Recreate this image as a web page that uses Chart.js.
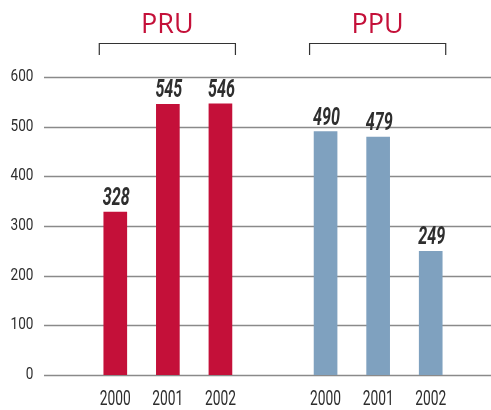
<!DOCTYPE html>
<html>
<head>
<meta charset="utf-8">
<script src="https://cdn.jsdelivr.net/npm/chart.js@4"></script>
<style>
    html, body { margin: 0; padding: 0; background: #ffffff; }
    #wrap { position: relative; width: 491px; height: 410px; }
</style>
</head>
<body>
<div id="wrap"><canvas id="chart" width="491" height="410"></canvas></div>
<script>
const years = ['2000', '2001', '2002'];
const groups = ['PRU', 'PPU'];
const pruValues = [328, 545, 546];
const ppuValues = [490, 479, 249];
const yTicks = [0, 100, 200, 300, 400, 500, 600];

const RED = '#c41039';
const BLUE = '#7fa1bf';
const TEXT = '#2e2e2e';

// one empty slot between the two groups
const labels = [...years, '', ...years];
const values = [...pruValues, null, ...ppuValues];
const colors = [...pruValues.map(() => RED), 'rgba(0,0,0,0)', ...ppuValues.map(() => BLUE)];

// no condensed font installed, so squeeze text horizontally
function condensedText(ctx, text, x, y, sx) {
    ctx.save();
    ctx.translate(x, y);
    ctx.scale(sx, 1);
    ctx.fillText(text, 0, 0);
    ctx.restore();
}

const gridPlugin = {
    id: 'gridPlugin',
    beforeDatasetsDraw(chart) {
        const { ctx } = chart;
        const y = chart.scales.y;
        const x = chart.scales.x;
        ctx.save();
        ctx.strokeStyle = '#8a8a8a';
        ctx.lineWidth = 1.5;
        ctx.fillStyle = TEXT;
        ctx.font = '17px Roboto';
        ctx.textAlign = 'right';
        ctx.textBaseline = 'middle';
        yTicks.forEach(t => {
            const py = Math.round(y.getPixelForValue(t)) + 0.5;
            ctx.beginPath();
            ctx.moveTo(44, py);
            ctx.lineTo(chart.width, py);
            ctx.stroke();
            condensedText(ctx, String(t), 33.5, py - 1, 0.8);
        });

        // category labels
        ctx.font = '20px Roboto';
        ctx.textAlign = 'center';
        ctx.textBaseline = 'alphabetic';
        labels.forEach((lab, i) => {
            if (!lab) return;
            condensedText(ctx, lab, x.getPixelForValue(i), 405, 0.69);
        });
        ctx.restore();
    }
};

const annotatePlugin = {
    id: 'annotatePlugin',
    afterDatasetsDraw(chart) {
        const { ctx } = chart;
        const meta = chart.getDatasetMeta(0);
        ctx.save();

        // value labels
        ctx.fillStyle = TEXT;
        ctx.font = 'italic bold 26px Roboto';
        ctx.textAlign = 'center';
        ctx.textBaseline = 'alphabetic';
        meta.data.forEach((bar, i) => {
            const v = values[i];
            if (v == null) return;
            condensedText(ctx, String(v), bar.x + 1, bar.y - 7, 0.62);
        });

        // group titles and brackets
        const x = chart.scales.x;
        const starts = [0, years.length + 1];
        groups.forEach((name, g) => {
            const first = x.getPixelForValue(starts[g]);
            const last = x.getPixelForValue(starts[g] + years.length - 1);
            const left = first - 16;
            const right = last + 15;
            ctx.strokeStyle = '#333333';
            ctx.lineWidth = 1.2;
            ctx.beginPath();
            ctx.moveTo(left, 55);
            ctx.lineTo(left, 43.5);
            ctx.lineTo(right, 43.5);
            ctx.lineTo(right, 55);
            ctx.stroke();

            ctx.fillStyle = RED;
            ctx.font = "27px 'Open Sans', 'Noto Sans', sans-serif";
            ctx.textAlign = 'center';
            ctx.textBaseline = 'alphabetic';
            ctx.fillText(name, (left + right) / 2, 33);
        });
        ctx.restore();
    }
};

new Chart(document.getElementById('chart').getContext('2d'), {
    type: 'bar',
    data: {
        labels: labels,
        datasets: [{
            data: values,
            backgroundColor: colors,
            borderWidth: 0,
            barThickness: 23
        }]
    },
    options: {
        responsive: false,
        animation: false,
        layout: { padding: { left: 89, right: 34, top: 77, bottom: 35 } },
        scales: {
            x: { display: false },
            y: {
                display: false,
                min: 0,
                max: 600
            }
        },
        plugins: {
            legend: { display: false },
            tooltip: { enabled: false }
        }
    },
    plugins: [gridPlugin, annotatePlugin]
});
</script>
</body>
</html>
